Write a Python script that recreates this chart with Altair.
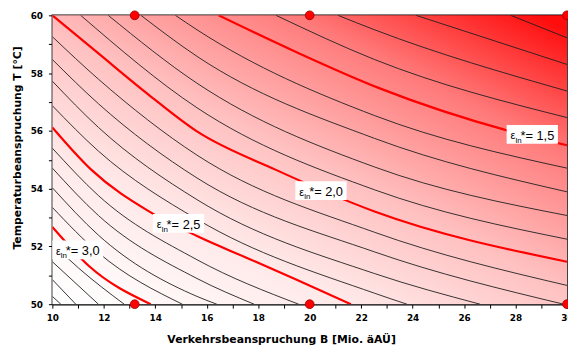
import altair as alt
import pandas as pd

# ---- contour lines: (B [Mio. äAÜ], T [°C]) points ----
line_1_1 = [(27.81, 60.0), (30.0, 59.22)]
line_1_2 = [(24.13, 60.0), (30.0, 58.30)]
line_1_3 = [(21.10, 60.0), (22.52, 59.50), (30.0, 57.38)]
line_1_4 = [(18.69, 60.0), (22.52, 58.47), (30.0, 56.46)]
line_1_5 = [(16.46, 60.0), (19.45, 58.74), (22.70, 57.48), (27.70, 56.01), (30.0, 55.50)]
line_1_6 = [(14.78, 60.0), (15.62, 59.50), (22.52, 56.53), (30.0, 54.71)]
line_1_7 = [(13.44, 60.0), (15.62, 58.58), (22.52, 55.74), (30.0, 53.89)]
line_1_8 = [(12.17, 60.0), (15.62, 57.65), (22.52, 54.75), (30.0, 53.07)]
line_1_9 = [(11.10, 60.0), (15.62, 56.80), (22.52, 53.96), (30.0, 52.25)]
line_2_0 = [(10.0, 60.0), (11.79, 58.68), (13.70, 57.28), (15.62, 55.98), (18.69, 54.65), (22.52, 53.21), (30.0, 51.47)]
line_2_1 = [(10.0, 59.26), (11.79, 57.79), (15.62, 55.16), (22.52, 52.49), (30.0, 50.65)]
line_2_2 = [(10.0, 58.47), (11.79, 56.94), (15.62, 54.37), (22.52, 51.81), (29.87, 50.0)]
line_2_3 = [(10.0, 57.72), (11.79, 56.12), (15.62, 53.62), (22.52, 51.06), (26.62, 50.0)]
line_2_4 = [(10.0, 56.87), (11.79, 55.30), (15.62, 52.94), (22.52, 50.38), (23.78, 50.0)]
line_2_5 = [(10.0, 56.12), (11.52, 54.65), (13.82, 53.18), (15.62, 52.36), (17.54, 51.61), (19.45, 50.86), (21.60, 50.0)]
line_2_6 = [(10.0, 55.40), (11.79, 53.76), (15.62, 51.54), (19.57, 50.0)]
line_2_7 = [(10.0, 54.71), (11.79, 53.07), (15.62, 50.89), (17.84, 50.0)]
line_2_8 = [(10.0, 54.03), (11.79, 52.39), (15.62, 50.27), (16.39, 50.0)]
line_2_9 = [(10.0, 53.35), (11.79, 51.78), (15.05, 50.0)]
line_3_0 = [(10.0, 52.67), (11.41, 51.33), (13.82, 50.0)]
line_3_1 = [(10.0, 52.09), (11.02, 51.25), (12.79, 50.0)]
line_3_2 = [(10.0, 51.47), (11.79, 50.0)]
line_3_3 = [(10.0, 50.85), (10.91, 50.0)]
line_3_4 = [(10.0, 50.27), (10.33, 50.0)]

levels = [1.1, 1.2, 1.3, 1.4, 1.5, 1.6, 1.7, 1.8, 1.9, 2.0, 2.1, 2.2,
          2.3, 2.4, 2.5, 2.6, 2.7, 2.8, 2.9, 3.0, 3.1, 3.2, 3.3, 3.4]
lines = [line_1_1, line_1_2, line_1_3, line_1_4, line_1_5, line_1_6, line_1_7,
         line_1_8, line_1_9, line_2_0, line_2_1, line_2_2, line_2_3, line_2_4,
         line_2_5, line_2_6, line_2_7, line_2_8, line_2_9, line_3_0, line_3_1,
         line_3_2, line_3_3, line_3_4]
major_levels = [1.5, 2.0, 2.5, 3.0]

# ---- labels of the highlighted lines ----
label_B = [28.65, 20.44, 14.90, 10.98]
label_T = [55.88, 53.93, 52.80, 51.88]
label_val = ["1,5", "2,0", "2,5", "3,0"]

# ---- red points ----
point_B = [13.2, 20.0, 30.0, 13.2, 20.0, 30.0]
point_T = [50.0, 50.0, 50.0, 60.0, 60.0, 60.0]

rows = []
for lev, pts in zip(levels, lines):
    for i, (b, t) in enumerate(pts):
        rows.append({"level": lev, "order": i, "B": b, "T": t,
                     "major": lev in major_levels})
df_lines = pd.DataFrame(rows)
df_labels = pd.DataFrame({"B": label_B, "T": label_T,
                          "txt": ["*= " + v for v in label_val]})
df_points = pd.DataFrame({"B": point_B, "T": point_T})

xscale = alt.Scale(domain=[10, 30], nice=False, zero=False)
yscale = alt.Scale(domain=[50, 60], nice=False, zero=False)

axis_font = "DejaVu Sans"
xaxis = alt.Axis(values=list(range(10, 31)),
                 labelExpr="datum.value % 2 == 0 ? datum.label : ''",
                 title="Verkehrsbeanspruchung B [Mio. äAÜ]",
                 titleFont=axis_font, titleFontSize=11, titleFontWeight="bold",
                 titleX=232, titleY=36, titleAlign="center", titleBaseline="middle",
                 labelFont=axis_font, labelFontSize=9, labelFontWeight="bold",
                 labelColor="black", titleColor="black",
                 tickSize=4, tickColor="black", tickWidth=1,
                 labelPadding=6, domainColor="black", domainWidth=1.5,
                 grid=False, labelFlush=False)
yaxis = alt.Axis(values=list(range(50, 61)),
                 labelExpr="datum.value % 2 == 0 ? datum.label : ''",
                 title="Temperaturbeanspruchung T [°C]",
                 titleFont=axis_font, titleFontSize=11, titleFontWeight="bold",
                 titleX=-35, titleY=134, titleAngle=270, titleAlign="center",
                 titleBaseline="middle",
                 labelFont=axis_font, labelFontSize=9, labelFontWeight="bold",
                 labelColor="black", titleColor="black",
                 tickSize=4, tickColor="black", tickWidth=1,
                 labelPadding=6, domainColor="black", domainWidth=1.5,
                 grid=False, labelFlush=False)

x_enc = alt.X("B:Q", scale=xscale, axis=xaxis)
y_enc = alt.Y("T:Q", scale=yscale, axis=yaxis)

gradient = alt.Gradient(
    gradient="linear", x1=0.05, y1=1, x2=0.95, y2=0,
    stops=[alt.GradientStop(color="#ffffff", offset=0),
           alt.GradientStop(color="#ffe8e8", offset=0.27),
           alt.GradientStop(color="#ffc0c0", offset=0.5),
           alt.GradientStop(color="#ff7a7a", offset=0.76),
           alt.GradientStop(color="#ff0c0c", offset=1)])

background = alt.Chart(pd.DataFrame({"B": [10], "B2": [30], "T": [50], "T2": [60]})).mark_rect(
    fill=gradient, strokeWidth=0).encode(
    x=alt.X("B:Q", scale=xscale, axis=xaxis), x2="B2:Q",
    y=alt.Y("T:Q", scale=yscale, axis=yaxis), y2="T2:Q")

thin = alt.Chart(df_lines).transform_filter("!datum.major").mark_line(
    interpolate="monotone", color="#1e1e1e", strokeWidth=0.9, clip=True).encode(
    x=x_enc, y=y_enc, detail="level:N", order="order:Q")

thick = alt.Chart(df_lines).transform_filter("datum.major").mark_line(
    interpolate="monotone", color="#ff0000", strokeWidth=2.2, clip=True).encode(
    x=x_enc, y=y_enc, detail="level:N", order="order:Q")

# white label boxes: about 52 x 19 px around each label position
box = alt.Chart(df_labels).transform_calculate(
    B1="datum.B - 0.996", B2="datum.B + 0.996",
    T1="datum.T - 0.325", T2="datum.T + 0.325").mark_rect(
    fill="white", opacity=1, strokeWidth=0, clip=True).encode(
    x=alt.X("B1:Q", scale=xscale, axis=xaxis), x2="B2:Q",
    y=alt.Y("T1:Q", scale=yscale, axis=yaxis), y2="T2:Q")

eps = alt.Chart(df_labels).mark_text(
    text="ε", align="left", baseline="alphabetic", dx=-22, dy=5,
    font="Liberation Sans", fontSize=11, fill="black").encode(x=x_enc, y=y_enc)
sub = alt.Chart(df_labels).mark_text(
    text="ln", align="left", baseline="alphabetic", dx=-17, dy=8.5,
    font="Liberation Sans", fontSize=8, fill="black").encode(x=x_enc, y=y_enc)
main = alt.Chart(df_labels).mark_text(
    align="left", baseline="alphabetic", dx=-12, dy=5.5,
    font="Liberation Sans", fontSize=13, fill="black").encode(
    x=x_enc, y=y_enc, text="txt:N")

dots = alt.Chart(df_points).mark_point(
    filled=True, size=80, fill="#ff0000", stroke="#990000", strokeWidth=0.8,
    opacity=1).encode(x=x_enc, y=y_enc)

chart = alt.layer(background, thin, thick, box, eps, sub, main, dots).properties(
    width=522, height=293,
    autosize=alt.AutoSizeParams(type="none"),
    padding={"left": 45, "top": 5, "right": 1, "bottom": 42},
).configure_view(stroke="black", strokeWidth=1.5)

chart.save("out.html", embed_options={"renderer": "svg", "actions": False})
